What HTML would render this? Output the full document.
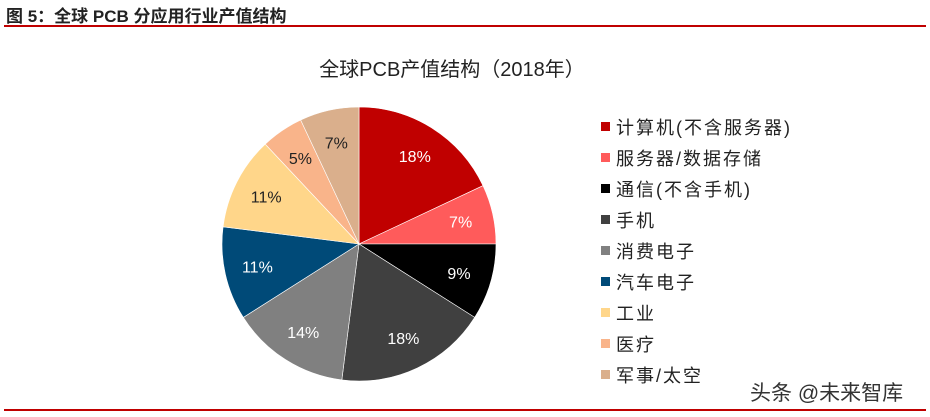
<!DOCTYPE html>
<html><head><meta charset="utf-8"><style>
body{margin:0;background:#fff;width:930px;height:417px;overflow:hidden;font-family:"Liberation Sans","Noto Sans CJK SC",sans-serif;}
.hdr{position:absolute;left:6px;top:2px;font-size:17px;font-weight:bold;color:#222;}
.line{position:absolute;left:4px;width:922px;height:2px;background:#C00000;}
</style></head><body>
<div class="hdr">图 5：全球 PCB 分应用行业产值结构</div>
<div class="line" style="top:25px"></div>
<div class="line" style="top:409px"></div>
<svg id="chart" width="930" height="417" style="position:absolute;left:0;top:0">
<text x="452" y="76" text-anchor="middle" font-size="20" fill="#222" font-family="Liberation Sans,Noto Sans CJK SC,sans-serif">全球PCB产值结构（2018年）</text>
<text x="750" y="400" font-size="21" fill="#333" font-family="Liberation Sans,Noto Sans CJK SC,sans-serif">头条 @未来智库</text>
</svg>
<script>
const categories=["计算机(不含服务器)","服务器/数据存储","通信(不含手机)","手机","消费电子","汽车电子","工业","医疗","军事/太空"];
const values=[18,7,9,18,14,11,11,5,7];
const colors=["#C00000","#FF5B5B","#000000","#404040","#808080","#004A78","#FFD68A","#F9B48A","#DAAF8C"];
const labelColors=["#fff","#fff","#fff","#fff","#fff","#fff","#222","#222","#222"];
const svg=document.getElementById('chart');const NS='http://www.w3.org/2000/svg';
const cx=359,cy=244,r=137;
const total=values.reduce((a,b)=>a+b,0);
let a0=-Math.PI/2;
values.forEach((v,i)=>{
 const a1=a0+v/total*2*Math.PI;
 const x0=cx+r*Math.cos(a0),y0=cy+r*Math.sin(a0),x1=cx+r*Math.cos(a1),y1=cy+r*Math.sin(a1);
 const p=document.createElementNS(NS,'path');
 p.setAttribute('d',`M${cx},${cy}L${x0},${y0}A${r},${r} 0 ${a1-a0>Math.PI?1:0} 1 ${x1},${y1}Z`);
 p.setAttribute('fill',colors[i]);p.setAttribute('stroke','#fff');p.setAttribute('stroke-width','0.6');
 
 
 svg.appendChild(p);
 const am=(a0+a1)/2;
 const t=document.createElementNS(NS,'text');
 t.setAttribute('x',cx+r*0.76*Math.cos(am));t.setAttribute('y',cy+r*0.76*Math.sin(am)+6);
 t.setAttribute('text-anchor','middle');t.setAttribute('font-size','16');t.setAttribute('fill',labelColors[i]);
 t.textContent=v+'%';
 
 
 svg.appendChild(t);
 const ly=127+i*31;
 const sq=document.createElementNS(NS,'rect');
 sq.setAttribute('x',601);sq.setAttribute('y',ly-5);sq.setAttribute('width',9);sq.setAttribute('height',9);sq.setAttribute('fill',colors[i]);
 
 
 svg.appendChild(sq);
 const lt=document.createElementNS(NS,'text');
 lt.setAttribute('x',616);lt.setAttribute('y',ly+7);lt.setAttribute('font-size','18');lt.setAttribute('fill','#222');
 lt.setAttribute('letter-spacing','2');
 lt.setAttribute('font-family','Liberation Sans,Noto Sans CJK SC,sans-serif');
 lt.textContent=categories[i];
 
 
 svg.appendChild(lt);
 a0=a1;
});
</script>
</body></html>
